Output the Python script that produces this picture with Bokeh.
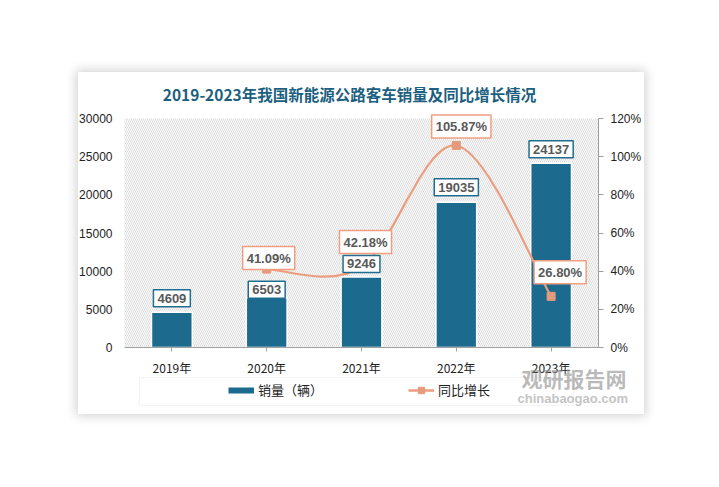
from bokeh.plotting import figure
from bokeh.models import (ColumnDataSource, LinearAxis, Range1d, Label, Legend,
                          LegendItem, BoxAnnotation, PrintfTickFormatter, FactorRange,
                          FixedTicker)
from bokeh.embed import file_html
from bokeh.resources import INLINE

# ---------------- data ----------------
years = ["2019年", "2020年", "2021年", "2022年", "2023年"]
sales = [4609, 6503, 9246, 19035, 24137]
growth_years = ["2020年", "2021年", "2022年", "2023年"]
growth = [41.09, 42.18, 105.87, 26.80]
left_ticks = [0, 5000, 10000, 15000, 20000, 25000, 30000]
right_ticks = [0, 20, 40, 60, 80, 100, 120]
title_text = "2019-2023年我国新能源公路客车销量及同比增长情况"
legend_labels = ["销量（辆）", "同比增长"]
watermark = ["观研报告网", "chinabaogao.com"]

# label offsets (pixels), kept apart from data
bar_lbl_dy = [14, 8, 13, 15, 14]
pct_lbl_dx = [2, 4, 5, 9]
pct_lbl_dy = [11, 25, 19, 24]

BAR = "#1c6b8e"
LINE = "#ec9d7e"
MARK = "#e59a7b"
CJK = "Noto Sans CJK SC"
NUM = "Liberation Sans"
NAN = float("nan")

# geometry (pixels) of the card
W, H = 566, 342
TOP = 46        # card top -> top of value band
BAND = 229      # height of the 0..max band
BELOW = H - TOP - BAND
LMAX, RMAX = 30000, 120
NCAT = len(years)


def xpos(yr):
    # synthetic coordinate of a factor on the categorical range
    return years.index(yr) + 0.5


p = figure(x_range=FactorRange(*years, range_padding=0.485,
                               range_padding_units="absolute"),
           y_range=Range1d(-LMAX * BELOW / BAND, LMAX * (BAND + TOP) / BAND),
           width=W, height=H, output_backend="svg", toolbar_location=None,
           title=None, min_border=0)
p.margin = (72, 0, 0, 78)
p.styles = {"box-shadow": "0px 0px 10px 2px rgba(0,0,0,0.18)"}
p.background_fill_color = "white"
p.border_fill_color = "white"
p.outline_line_color = None
p.xgrid.visible = False
p.ygrid.visible = False

# hatched plot area
p.add_layout(BoxAnnotation(left=0, right=NCAT, bottom=0, top=LMAX,
                           fill_color=None, fill_alpha=0, line_color=None,
                           hatch_pattern="\\", hatch_color="#d2d2d2",
                           hatch_scale=4, hatch_weight=0.8, level="underlay"))

# left axis (fixed at the left edge of the category band)
ly = p.yaxis[0]
ly.fixed_location = 0
ly.ticker = FixedTicker(ticks=left_ticks)
ly.bounds = (0, LMAX)
ly.axis_line_color = None
ly.major_tick_line_color = None
ly.major_tick_out = 0
ly.major_tick_in = 0
ly.minor_tick_line_color = None
ly.minor_tick_out = 0
ly.major_label_standoff = 12
ly.major_label_text_font = NUM
ly.major_label_text_font_size = "12px"
ly.major_label_text_color = "#222222"

# x axis, drawn at value 0
xa = p.xaxis[0]
xa.fixed_location = 0
xa.bounds = (0, NCAT)
xa.axis_line_color = "#a0a0a0"
xa.axis_line_width = 1.2
xa.major_tick_line_color = "#a0a0a0"
xa.major_tick_out = 4
xa.major_tick_in = 0
xa.major_label_standoff = 7
xa.major_label_text_font = CJK
xa.major_label_text_font_size = "12px"
xa.major_label_text_color = "#222222"

# right axis (fixed at the right edge of the category band)
p.extra_y_ranges = {"pct": Range1d(-RMAX * BELOW / BAND, RMAX * (BAND + TOP) / BAND)}
ra = LinearAxis(y_range_name="pct", ticker=FixedTicker(ticks=right_ticks),
                formatter=PrintfTickFormatter(format="%d%%"), fixed_location=NCAT)
ra.bounds = (0, RMAX)
ra.axis_line_color = "#a0a0a0"
ra.major_tick_line_color = "#a0a0a0"
ra.major_tick_out = 5
ra.major_tick_in = 0
ra.minor_tick_line_color = None
ra.minor_tick_out = 0
ra.major_label_standoff = 7
ra.major_label_text_font = NUM
ra.major_label_text_font_size = "12px"
ra.major_label_text_color = "#222222"
p.add_layout(ra, "right")

# bars
src = ColumnDataSource(dict(years=years, sales=sales))
p.vbar(x="years", top="sales", width=0.43, source=src, fill_color=BAR,
       line_color="white", line_width=1.5)

# smooth line through growth points (Bezier controls computed from the data)
gx = [xpos(g) for g in growth_years]
n = len(growth)
x0s, y0s, x1s, y1s, cx0, cy0, cx1, cy1 = [], [], [], [], [], [], [], []
for i in range(n - 1):
    pxm, pym = (gx[i - 1], growth[i - 1]) if i > 0 else (gx[i], growth[i])
    pxp, pyp = (gx[i + 2], growth[i + 2]) if i + 2 < n else (gx[i + 1], growth[i + 1])
    x0s.append(gx[i]); y0s.append(growth[i])
    x1s.append(gx[i + 1]); y1s.append(growth[i + 1])
    cx0.append(gx[i] + (gx[i + 1] - pxm) / 6); cy0.append(growth[i] + (growth[i + 1] - pym) / 6)
    cx1.append(gx[i + 1] - (pxp - gx[i]) / 6); cy1.append(growth[i + 1] - (pyp - growth[i]) / 6)
p.bezier(x0=x0s, y0=y0s, x1=x1s, y1=y1s, cx0=cx0, cy0=cy0, cx1=cx1, cy1=cy1,
         y_range_name="pct", line_color=LINE, line_width=2.2)
p.scatter(x=growth_years, y=growth, marker="square", size=8, color=MARK,
          y_range_name="pct")

# data labels
for yr, v, dy in zip(years, sales, bar_lbl_dy):
    p.add_layout(Label(x=xpos(yr), y=v, text=str(v), y_offset=dy, text_align="center",
                       text_baseline="middle", text_font=NUM, text_font_size="13px",
                       text_font_style="bold", text_color="#595959",
                       background_fill_color="white", border_line_color="#1f6e91",
                       border_line_width=1.5, padding=4))
for yr, v, dx, dy in zip(growth_years, growth, pct_lbl_dx, pct_lbl_dy):
    p.add_layout(Label(x=xpos(yr), y=v, y_range_name="pct", text=f"{v:.2f}%",
                       x_offset=dx, y_offset=dy, text_align="center",
                       text_baseline="middle", text_font=NUM, text_font_size="13px",
                       text_font_style="bold", text_color="#595959",
                       background_fill_color="white", border_line_color="#ef9f80",
                       border_line_width=1.5, padding=4))

# title
p.add_layout(Label(x=271, y=H - 21, x_units="screen", y_units="screen", text=title_text,
                   text_align="center", text_baseline="middle", text_font=CJK,
                   text_font_size="15.5px", text_font_style="bold",
                   text_color="#1d5f80"))

# legend (swatch-only renderers, nothing drawn in the plot)
lg_bar = p.line(x=[NAN], y=[NAN], line_color=BAR, line_width=6, line_cap="butt")
lg_line = p.line(x=[NAN], y=[NAN], line_color=LINE, line_width=2.5)
lg_mark = p.scatter(x=[NAN], y=[NAN], marker="square", size=8, color=MARK)
legend = Legend(items=[LegendItem(label=legend_labels[0], renderers=[lg_bar]),
                       LegendItem(label=legend_labels[1], renderers=[lg_line, lg_mark])],
                location=(150, 15), orientation="horizontal",
                border_line_color=None, background_fill_alpha=0, padding=0, margin=0,
                spacing=85, label_standoff=4, glyph_width=26, glyph_height=16,
                label_height=16, label_text_font=CJK, label_text_font_size="13px",
                label_text_color="#222222")
p.add_layout(legend, "center")
p.add_layout(BoxAnnotation(left=61, right=495, bottom=9, top=37,
                           left_units="screen", right_units="screen",
                           bottom_units="screen", top_units="screen",
                           fill_color=None, fill_alpha=0, line_color="#d9d9d9",
                           line_width=1))

# watermark
p.add_layout(Label(x=443, y=22, x_units="screen", y_units="screen", text=watermark[0],
                   text_font=CJK, text_font_size="21px", text_font_style="bold",
                   text_color="#8c8c8c", text_alpha=0.6, text_baseline="bottom"))
p.add_layout(Label(x=439, y=9, x_units="screen", y_units="screen", text=watermark[1],
                   text_font=NUM, text_font_size="13px", text_font_style="bold",
                   text_color="#9a9a9a", text_alpha=0.6, text_baseline="bottom"))

open("out.html", "w").write(file_html(p, INLINE))
